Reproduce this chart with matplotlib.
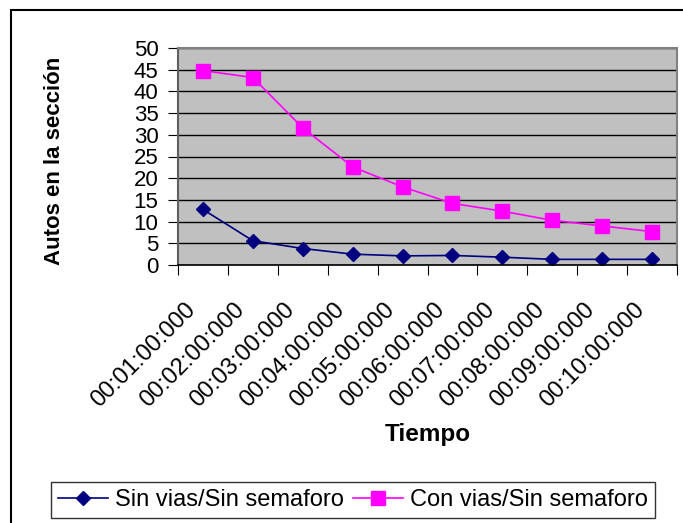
import matplotlib.pyplot as plt
import matplotlib.patches as patches
import matplotlib.transforms as mtransforms
import numpy as np

plt.rcParams['font.family'] = ['Liberation Sans', 'DejaVu Sans']

# datos
tiempos = ['00:01:00:000', '00:02:00:000', '00:03:00:000', '00:04:00:000',
           '00:05:00:000', '00:06:00:000', '00:07:00:000', '00:08:00:000',
           '00:09:00:000', '00:10:00:000']
sin_vias = [12.8, 5.6, 3.8, 2.5, 2.1, 2.2, 1.8, 1.3, 1.3, 1.3]
con_vias = [44.8, 43.2, 31.6, 22.6, 18.0, 14.2, 12.4, 10.3, 9.0, 7.7]

fig = plt.figure(figsize=(6.83, 5.23), dpi=100)
ax = fig.add_axes([178/683, 1-265/523, (677-178)/683, (265-48)/523])

x = np.arange(len(tiempos)) + 0.5
ax.set_facecolor('#C0C0C0')
ax.plot(x, sin_vias, color='#000080', lw=1.2, marker='D', markersize=7,
        label='Sin vias/Sin semaforo')
ax.plot(x, con_vias, color='#FF00FF', lw=1.2, marker='s', markersize=9.5,
        label='Con vias/Sin semaforo')

ax.set_xlim(0, len(tiempos))
ax.set_ylim(0, 50)
ax.set_yticks(range(0, 51, 5))
ax.yaxis.grid(True, color='black', lw=1)
ax.set_axisbelow(True)

ax.set_xticks(range(len(tiempos) + 1))
ax.set_xticklabels([])
ax.set_xticks(x, minor=True)
ax.set_xticklabels(tiempos, minor=True, rotation=45, ha='right',
                   rotation_mode='anchor', fontsize=17)
ax.tick_params(axis='x', which='minor', length=0, pad=24)
ax.tick_params(axis='x', which='major', direction='out', length=7, color='black')
ax.tick_params(axis='y', direction='out', length=7, labelsize=16, pad=7, color='black')

shift = mtransforms.ScaledTranslation(-0.19, 0, fig.dpi_scale_trans)
for lab in ax.get_xticklabels(minor=True):
    lab.set_transform(lab.get_transform() + shift)

for s in ['top', 'right']:
    ax.spines[s].set_color('#808080')
    ax.spines[s].set_linewidth(1.5)
ax.spines['left'].set_color('#606060')
ax.spines['left'].set_linewidth(1.5)
ax.spines['bottom'].set_color('black')
ax.spines['bottom'].set_linewidth(1.2)

fig.text(55/683, 1-161/523, 'Autos en la sección', rotation=90, ha='center',
         va='center', fontsize=16, fontweight='bold')
fig.text(428/683, 1-434/523, 'Tiempo', ha='center', va='center',
         fontsize=17.5, fontweight='bold')

leg = fig.legend(loc='center', bbox_to_anchor=(353/683, 1-500/523), ncol=2,
                 fontsize=17, handlelength=2.1, handletextpad=0.3,
                 columnspacing=0.4, fancybox=False, edgecolor='black',
                 borderpad=0.3)
leg.get_frame().set_linewidth(1)

fig.patches.append(patches.Rectangle((11/683, -0.1), 1.2, 1.1 - 10/523,
                                     transform=fig.transFigure, fill=False,
                                     edgecolor='black', lw=1.5))

fig.savefig('out.png', dpi=100)
